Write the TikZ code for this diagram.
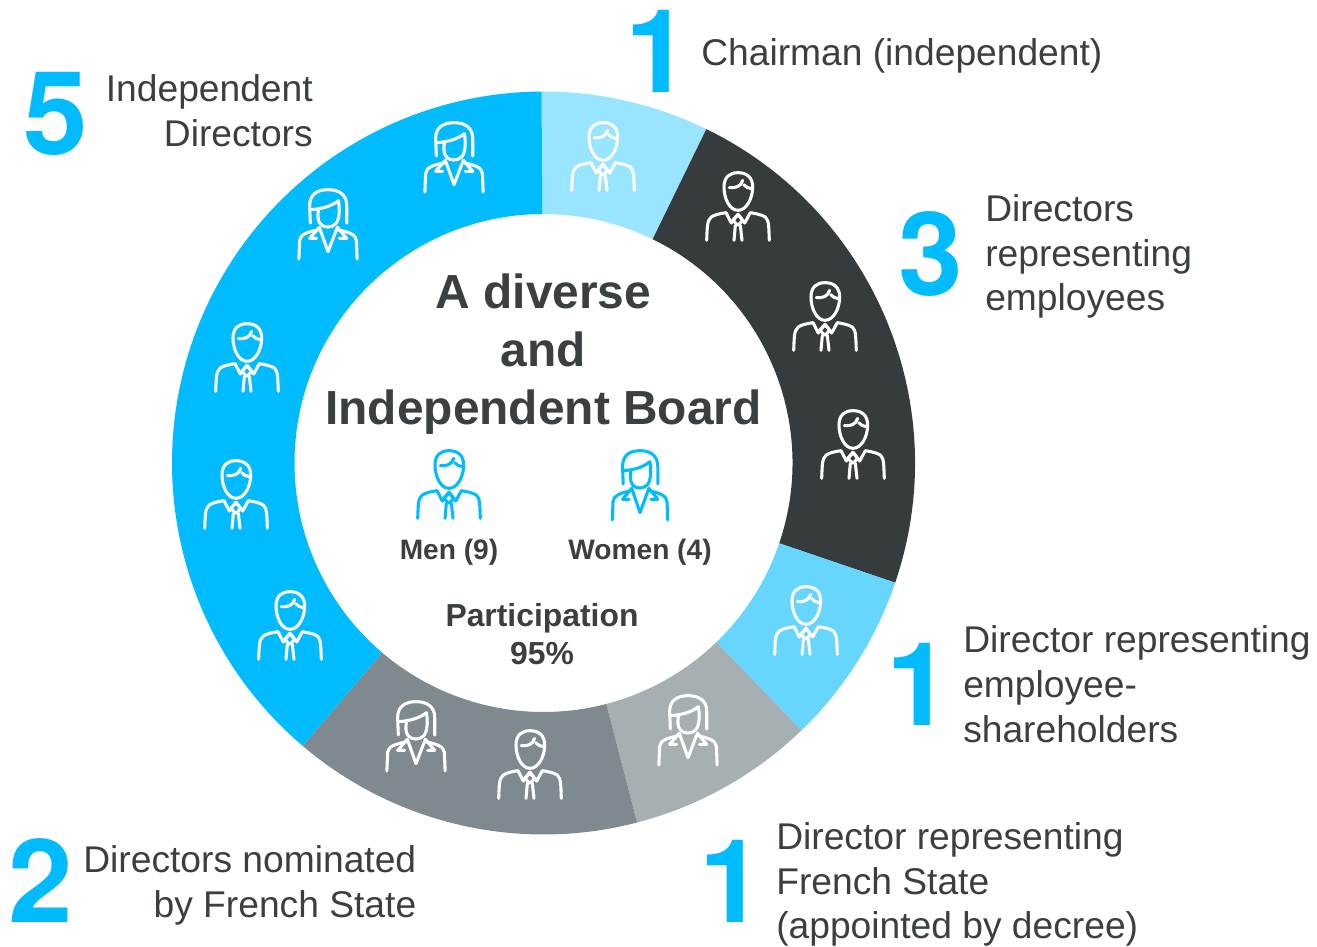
\documentclass[tikz,border=0pt]{standalone}
\usepackage{fontspec}
\setmainfont{Liberation Sans}
\newfontfamily\numfont{TeX Gyre Heros}[BoldFont={* Bold}]
\definecolor{ink}{HTML}{3A3F42}
\definecolor{sky}{HTML}{00BCFF}
\definecolor{segA}{HTML}{99E4FF}
\definecolor{segB}{HTML}{363B3E}
\definecolor{segC}{HTML}{66D6FF}
\definecolor{segD}{HTML}{A6AFB2}
\definecolor{segE}{HTML}{7F8A90}
\tikzset{
  lbl/.style={inner sep=0pt,text=ink,font=\fontsize{27.9}{33.6}\selectfont},
  num/.style={inner sep=0pt,text=sky,font=\numfont\fontsize{87}{87}\selectfont\bfseries},
  ttl/.style={inner sep=0pt,text=ink,align=center,font=\fontsize{35.9}{43.5}\selectfont\bfseries},
  sub/.style={inner sep=0pt,text=ink,align=center,font=\fontsize{21.1}{28.5}\selectfont\bfseries},
  subb/.style={inner sep=0pt,text=ink,align=center,font=\fontsize{23.9}{28.5}\selectfont\bfseries},
  icon/.style={line width=2.3pt,line cap=round,line join=round},
  man/.pic={
    \begin{scope}[x=.25pt,y=-.25pt,icon,pic actions]
    \draw (0,-5) .. controls (-25,-5) and (-42,-40) .. (-42,-75) .. controls (-42,-105) and (-25,-118) .. (0,-118) .. controls (25,-118) and (44,-105) .. (44,-75) .. controls (44,-40) and (25,-5) .. (0,-5) -- cycle;
    \draw (-26,-73) .. controls (-8,-72) and (8,-75) .. (14,-95);
    \draw (17,-82) .. controls (22,-74) and (32,-72) .. (40,-70);
    \draw (-94,85) .. controls (-92,50) and (-94,25) .. (-80,15) .. controls (-70,8) and (-55,5) .. (-36,2) -- (-20,33) -- (0,7) -- (20,33) -- (37,2) .. controls (55,5) and (70,8) .. (82,15) .. controls (94,25) and (92,50) .. (94,85);
    \draw (0,7) -- (-16,25) -- (0,40) -- (14,25) -- cycle;
    \draw (-8,40) -- (-12,85);
    \draw (7,40) -- (12,85);
    \end{scope}
  },
  woman/.pic={
    \begin{scope}[x=.26pt,y=-.25pt,icon,pic actions]
    \draw (-51,-18) -- (-53,-70) .. controls (-53,-105) and (-30,-118) .. (0,-118) .. controls (30,-118) and (54,-105) .. (54,-70) -- (54,-18);
    \draw (-51,-58) .. controls (-20,-60) and (10,-68) .. (30,-85) .. controls (34,-60) and (34,-30) .. (22,-15) .. controls (10,-3) and (-12,-3) .. (-22,-15) .. controls (-30,-25) and (-30,-40) .. (-28,-55);
    \draw (-25,-5) -- (0,68) -- (27,-5);
    \draw (-25,-5) -- (-53,28) -- (-33,28);
    \draw (27,-5) -- (54,28) -- (33,28);
    \draw (-84,90) -- (-82,35) .. controls (-80,15) and (-60,10) .. (-28,2);
    \draw (84,90) -- (82,35) .. controls (80,15) and (60,10) .. (28,2);
    \end{scope}
  }
}
\newcommand{\ringseg}[3]{\fill[#1] (#2-90:371.5) arc[start angle=#2-90,end angle=#3-90,radius=371.5] -- (#3-90:249) arc[start angle=#3-90,end angle=#2-90,radius=249] -- cycle;}
\begin{document}
\begin{tikzpicture}[x=.75pt,y=-.75pt]
\useasboundingbox (0,0) rectangle (1317,946);
\begin{scope}[shift={(543.5,463)}]
\ringseg{segA}{-0.3}{26}
\ringseg{segB}{26}{108.8}
\ringseg{segC}{108.8}{136}
\ringseg{segD}{136}{165.4}
\ringseg{segE}{165.4}{220.4}
\ringseg{sky}{220.4}{359.7}
\end{scope}
\pic[white] at (603,162) {man};
\pic[white] at (738,212) {man};
\pic[white] at (825,322) {man};
\pic[white] at (853,450) {man};
\pic[white] at (806,626) {man};
\pic[white] at (688,735) {woman};
\pic[white] at (530,770) {man};
\pic[white] at (416,741) {woman};
\pic[white] at (290,631) {man};
\pic[white] at (236,500) {man};
\pic[white] at (247,363) {man};
\pic[white] at (328,229) {woman};
\pic[white] at (454,162) {woman};
\pic[sky] at (449,490) {man};
\pic[sky,xscale=.95] at (640,490) {woman};
\node[ttl] (title) at (543.5,354) {A diverse\\and\\Independent Board};
\node[sub] (men) at (449,552.5) {Men (9)};
\node[sub] (women) at (640,552.5) {Women (4)};
\node[subb] (part) at (542,634) {Participation\\95\%};
\node[num,anchor=base] (n1) at (658,92) {1};
\node[lbl,anchor=north west,align=left] (l1) at (701,38) {Chairman (independent)};
\node[num,anchor=base] (n3) at (930.5,295) {3};
\node[lbl,anchor=north west,align=left] (l3) at (985,194) {Directors\\representing\\employees};
\node[num,anchor=base] (n1b) at (918.5,725) {1};
\node[lbl,anchor=north west,align=left] (l1b) at (963,625.5) {Director representing\\employee-\\shareholders};
\node[num,anchor=base] (n1c) at (731.5,922) {1};
\node[lbl,anchor=north west,align=left] (l1c) at (776,822) {Director representing\\French State\\(appointed by decree)};
\node[num,anchor=base] (n2) at (40.5,922) {2};
\node[lbl,anchor=north east,align=right] (l2) at (416.5,845) {Directors nominated\\by French State};
\node[num,anchor=base] (n5) at (55.5,154) {5};
\node[lbl,anchor=north east,align=right] (l5) at (313,74) {Independent\\Directors};
\end{tikzpicture}
\end{document}
